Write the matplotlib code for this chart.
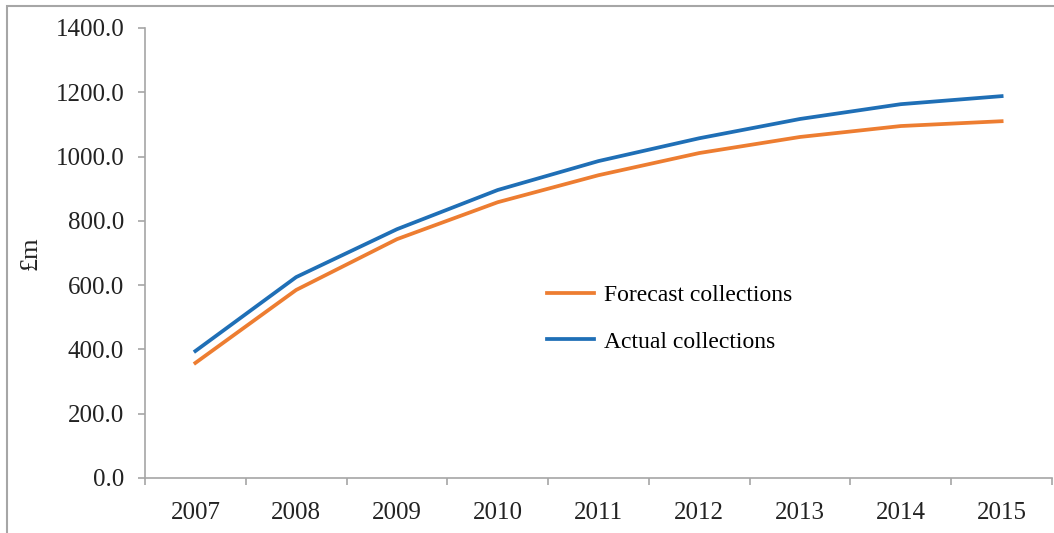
import matplotlib
matplotlib.use("Agg")
import matplotlib.pyplot as plt
import numpy as np
from matplotlib.patches import Rectangle

# datos
anyos = ["2007", "2008", "2009", "2010", "2011", "2012", "2013", "2014", "2015"]
prevision = [358, 585, 743, 858, 942, 1011, 1061, 1095, 1110]
real = [395, 625, 774, 896, 986, 1057, 1117, 1163, 1188]

plt.rcParams['font.family'] = ['Liberation Serif', 'DejaVu Serif']
gris = '#A6A6A6'
texto = '#222222'

fig = plt.figure(figsize=(10.54, 5.33), dpi=100)
ax = fig.add_axes([145/1054, 1-478/533, (1052-145)/1054, (478-28)/533])

# marco exterior
fig.patches.append(Rectangle((7/1054, -0.1), 1.2, 1.1 - 6/533,
                             transform=fig.transFigure, fill=False,
                             edgecolor=gris, linewidth=1.5))

x = np.arange(len(anyos))
ax.plot(x, prevision, color='#ED7D31', linewidth=2.7, label='Forecast collections')
ax.plot(x, real, color='#1F6FB6', linewidth=2.7, label='Actual collections')

ax.set_xlim(-0.5, len(anyos) - 0.5)
ax.set_ylim(0, 1400)
ax.set_yticks(np.arange(0, 1401, 200))
ax.set_yticklabels([f"{v:.1f}" for v in np.arange(0, 1401, 200)])
ax.set_xticks(x)
ax.set_xticklabels(anyos)
ax.set_xticks(np.arange(-0.5, len(anyos)), minor=True)

for s in ['top', 'right']:
    ax.spines[s].set_visible(False)
for s in ['left', 'bottom']:
    ax.spines[s].set_color(gris)
    ax.spines[s].set_linewidth(1.2)

ax.tick_params(axis='y', length=5, color=gris, width=1.2, pad=10, labelsize=18, labelcolor=texto)
ax.tick_params(axis='x', which='major', length=0, pad=17, labelsize=18, labelcolor=texto)
ax.tick_params(axis='x', which='minor', length=5, color=gris, width=1.2)

ax.set_ylabel("£m", fontsize=19, color=texto, labelpad=10)

ax.legend(loc='center left', bbox_to_anchor=(0.42, 0.354), frameon=False,
          fontsize=17, handlelength=2.0, labelspacing=1.05, handletextpad=0.4)

fig.savefig("out.png", dpi=100)
